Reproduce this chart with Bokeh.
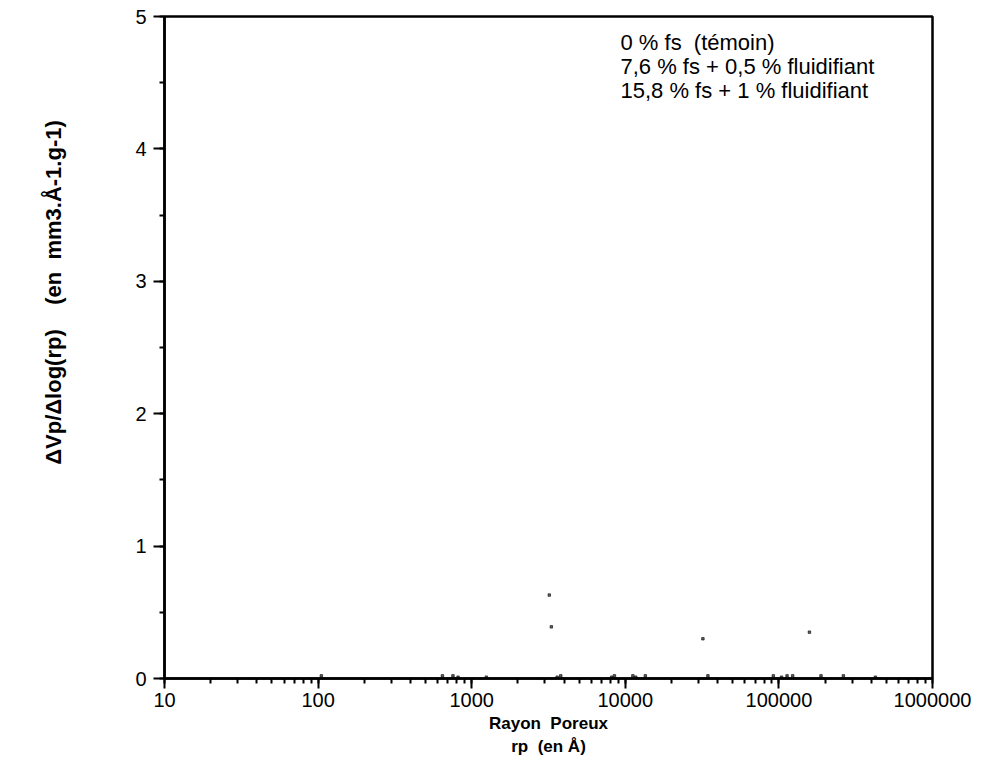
from bokeh.plotting import figure
from bokeh.models import (Label, SingleIntervalTicker, LogTicker, PrintfTickFormatter,
                          Range1d)
from bokeh.embed import file_html
from bokeh.resources import INLINE

# ---- data (curves are mostly faded) ----
series_names = ["0 % fs\u00a0 (témoin)",
                "7,6 % fs + 0,5 % fluidifiant",
                "15,8 % fs + 1 % fluidifiant"]

rp_temoin = [105, 645, 3200, 3300, 8150, 34500, 104000]
dv_temoin = [0.02, 0.02, 0.63, 0.39, 0.01, 0.02, 0.01]

rp_fs76 = [755, 3600, 8500, 11200, 32000, 113000, 188000]
dv_fs76 = [0.02, 0.01, 0.02, 0.02, 0.30, 0.02, 0.02]

rp_fs158 = [815, 1245, 3800, 11700, 13500, 92000, 123000, 158000, 263000, 425000]
dv_fs158 = [0.01, 0.01, 0.02, 0.01, 0.02, 0.02, 0.02, 0.35, 0.02, 0.01]

x_limits = [10, 1000000]
y_limits = [0, 5]

x_title = "Rayon\u00a0 Poreux\nrp\u00a0 (en Å)"
# leading no-break spaces shift the visible title upward, as in the original
y_title = "\u00a0" * 18 + "ΔVp/Δlog(rp)\u00a0\u00a0\u00a0 (en\u00a0 mm3.Å-1.g-1)"

FONT = "Liberation Sans"

p = figure(x_axis_type="log",
           x_range=Range1d(*x_limits), y_range=Range1d(*y_limits),
           output_backend="svg", toolbar_location=None,
           frame_width=768, frame_height=662,
           min_border_left=164, min_border_right=46,
           min_border_top=16, min_border_bottom=86)

p.background_fill_color = "white"
p.border_fill_color = "white"
p.outline_line_color = "black"
p.outline_line_width = 2.5
p.xgrid.visible = False
p.ygrid.visible = False

# x axis
xa = p.xaxis[0]
xa.ticker = LogTicker(desired_num_ticks=6, num_minor_ticks=10)
xa.formatter = PrintfTickFormatter(format="%d")
xa.axis_line_width = 2.5
xa.axis_line_color = "black"
xa.major_tick_in = 0
xa.major_tick_out = 10
xa.minor_tick_in = 0
xa.minor_tick_out = 5
xa.major_tick_line_width = 2
xa.minor_tick_line_width = 2
xa.major_label_standoff = 4
xa.major_label_text_font = FONT
xa.major_label_text_font_size = "20px"
xa.major_label_text_color = "black"
xa.axis_label = x_title
xa.axis_label_text_font = FONT
xa.axis_label_text_font_style = "bold"
xa.axis_label_text_font_size = "17px"
xa.axis_label_text_color = "black"
xa.axis_label_text_line_height = 1.25
xa.axis_label_standoff = 4

# y axis
ya = p.yaxis[0]
ya.ticker = SingleIntervalTicker(interval=1, num_minor_ticks=2)
ya.axis_line_width = 2.5
ya.axis_line_color = "black"
ya.major_tick_in = 0
ya.major_tick_out = 11
ya.minor_tick_in = 0
ya.minor_tick_out = 5
ya.major_tick_line_width = 2
ya.minor_tick_line_width = 2
ya.major_label_standoff = 7
ya.major_label_text_font = FONT
ya.major_label_text_font_size = "20px"
ya.major_label_text_color = "black"
ya.axis_label = y_title
ya.axis_label_text_font = FONT
ya.axis_label_text_font_style = "bold"
ya.axis_label_text_font_size = "22px"
ya.axis_label_text_color = "black"
ya.axis_label_standoff = 66

# faded data fragments
for xs, ys in [(rp_temoin, dv_temoin), (rp_fs76, dv_fs76), (rp_fs158, dv_fs158)]:
    p.scatter(xs, ys, marker="square", size=2.5, color="black", alpha=0.6)

# legend texts (no visible symbols in the scan)
for i, name in enumerate(series_names):
    p.add_layout(Label(x=456, y=636 - 24 * i, x_units="screen", y_units="screen",
                       text=name, text_align="left", text_baseline="middle",
                       text_font=FONT, text_font_size="22px", text_color="black"))

open("out.html", "w").write(file_html(p, INLINE))
